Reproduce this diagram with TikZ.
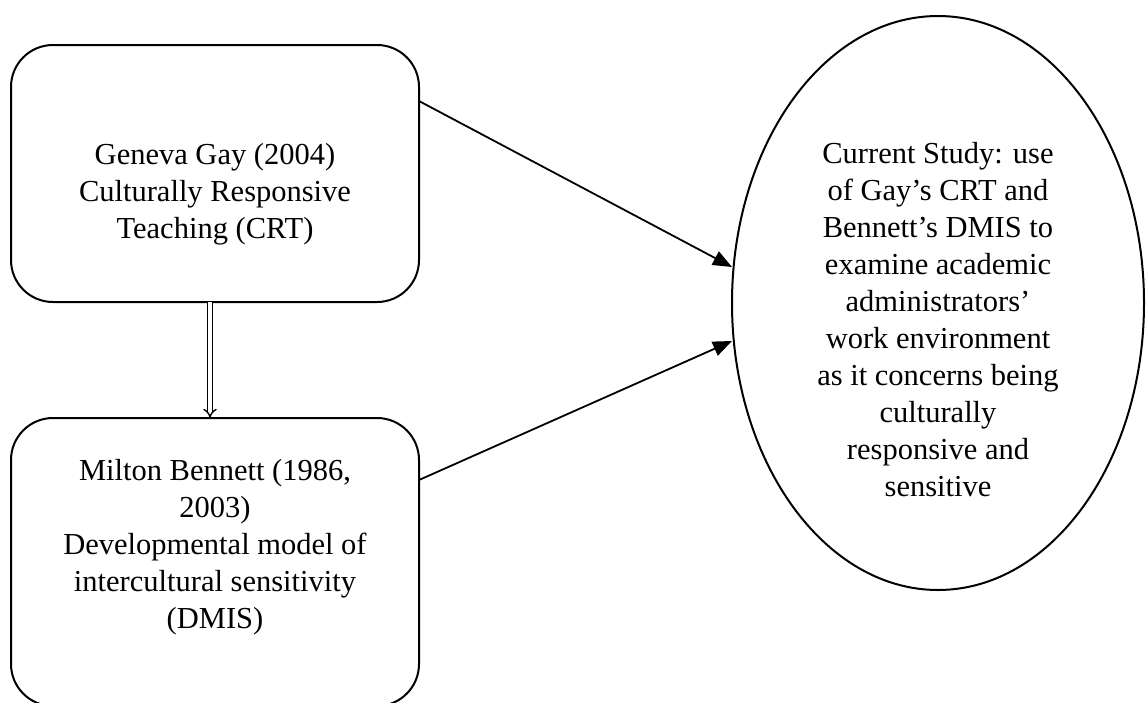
\documentclass[tikz,border=0pt]{standalone}
\usepackage{fontspec}
\setmainfont{Liberation Serif}
\usetikzlibrary{arrows.meta}
\begin{document}
\begin{tikzpicture}[x=1pt,y=-1pt,
  framebox/.style={draw=black,line width=2pt,rounded corners=42pt},
  label/.style={align=center,font=\fontsize{30.5}{37}\selectfont,inner sep=0pt},
  link/.style={line width=1.8pt,-{Triangle[length=19pt,width=15pt]}},
  flow/.style={double=white,double distance=3.2pt,line width=1.4pt,-{Implies[length=7pt]}}]
  \useasboundingbox (0,0) rectangle (1146,702);

  % source boxes
  \draw[framebox] (11,45) rectangle (419,302);
  \draw[framebox] (11,418) rectangle (419,706);
  \node[label] (gay) at (215,194) {Geneva Gay (2004)\\Culturally Responsive\\Teaching (CRT)};
  \node[label] (bennett) at (215,547) {Milton Bennett (1986,\\2003)\\Developmental model of\\intercultural sensitivity\\(DMIS)};

  % current study
  \draw[line width=2pt] (938,303) ellipse [x radius=206, y radius=287];
  \node[label] (study) at (938,320) {Current Study: use\\of Gay’s CRT and\\Bennett’s DMIS to\\examine academic\\administrators’\\work environment\\as it concerns being\\culturally\\responsive and\\sensitive};

  % anchor points on the frames
  \coordinate (gayout) at (419,101);
  \coordinate (benout) at (419,480);
  \coordinate (studyin1) at (732,267);
  \coordinate (studyin2) at (732,341);
  \coordinate (gaybot) at (210,302);
  \coordinate (bentop) at (210,418);

  \draw[link] (gayout) -- (studyin1);
  \draw[link] (benout) -- (studyin2);
  \draw[flow] (gaybot) -- (bentop);
\end{tikzpicture}
\end{document}
